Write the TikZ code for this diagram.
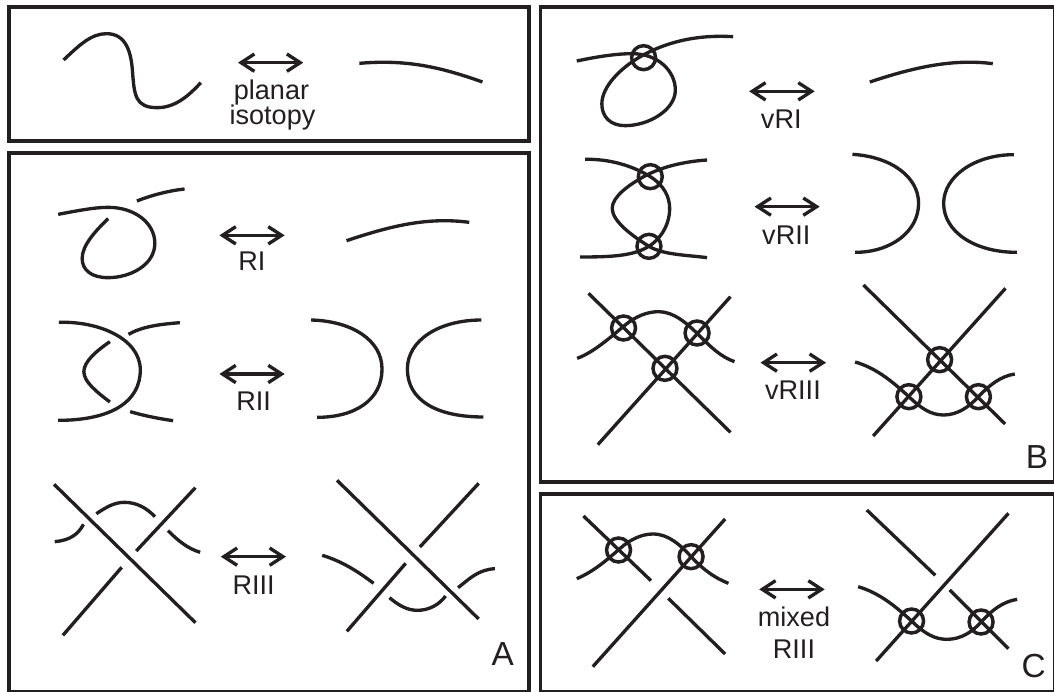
\documentclass[tikz,border=0pt]{standalone}
\usepackage{fontspec}
\setmainfont{Liberation Sans}
\usetikzlibrary{arrows.meta}
\definecolor{ink}{HTML}{231F20}
\tikzset{
  px/.style={x=0.75pt,y=-0.75pt},
  zA/.style={x=0.25355pt,y=-0.25pt},
  zB/.style={x=0.25355pt,y=-0.25pt,shift={(0pt,-258.75pt)}},
  zC/.style={x=0.2506pt,y=-0.25pt,shift={(397.5pt,0pt)}},
  zD/.style={x=0.2506pt,y=-0.25pt,shift={(397.5pt,-202.5pt)}},
  frame/.style={draw=ink,line width=2.8pt},
  strand/.style={draw=ink,line width=2.5pt,line cap=butt,line join=round},
  move/.style={draw=ink,line width=2.5pt,{Straight Barb[length=10pt,width=13pt]}-{Straight Barb[length=10pt,width=13pt]}},
  lab/.style={anchor=base,text=ink,font=\fontsize{20.3}{24}\selectfont,inner sep=0pt},
  corner/.style={anchor=base,text=ink,font=\fontsize{25}{30}\selectfont,inner sep=0pt},
  virt/.style={circle,draw=ink,line width=2.6pt,minimum size=18pt,inner sep=0pt}
}
\begin{document}
\begin{tikzpicture}
\begin{scope}[px]
\useasboundingbox (0,0) rectangle (1054,692);
\clip (0,0) rectangle (1054,692);
\fill[white] (0,0) rectangle (1054,692);
\draw[frame] (9,7) rectangle (529,141);
\draw[frame] (9,153) rectangle (529,691.5);
\draw[frame] (540.5,7) rectangle (1054.5,482);
\draw[frame] (540.5,494) rectangle (1054.5,691.5);
\end{scope}
% planar isotopy and RI
\begin{scope}[zA]
\draw[strand] (188,180) .. controls (235,135) and (270,101) .. (315,101) .. controls (375,101) and (388,160) .. (392,215) .. controls (397,285) and (400,323) .. (465,323) .. controls (520,323) and (560,285) .. (594,248);
\draw[strand] (1063,190) .. controls (1200,178) and (1300,200) .. (1427,246);
\draw[move] (704,188) -- (897,188);
\node[lab] (planar) at (803,297) {planar};
\node[lab] (isotopy) at (806,375) {isotopy};
\draw[strand] (172,643) .. controls (230,632) and (280,622) .. (320,622) .. controls (400,622) and (458,670) .. (458,730) .. controls (458,795) and (385,833) .. (320,833) .. controls (270,833) and (243,810) .. (243,775) .. controls (243,735) and (285,690) .. (320,656);
\draw[strand] (405,603) .. controls (450,585) and (500,572) .. (546,567);
\draw[strand] (1025,722) .. controls (1150,680) and (1260,650) .. (1388,667);
\draw[move] (649,706) -- (842,706);
\node[lab] (ri) at (745,812) {RI};
\end{scope}
% RII and RIII
\begin{scope}[zB]
\draw[strand] (174,-68) .. controls (290,-72) and (415,-20) .. (415,75) .. controls (415,170) and (330,226) .. (172,226);
\draw[strand] (325,-10) .. controls (285,18) and (248,50) .. (248,80) .. controls (248,110) and (285,140) .. (325,171);
\draw[strand] (380,-32) .. controls (420,-55) and (470,-62) .. (532,-67);
\draw[strand] (385,200) .. controls (430,213) and (470,221) .. (512,227);
\draw[move] (649,87) -- (842,87);
\node[lab] (rii) at (750,197) {RII};
\draw[strand] (920,-75) .. controls (1040,-72) and (1130,-15) .. (1130,72) .. controls (1130,165) and (1050,217) .. (938,217);
\draw[strand] (1424,-75) .. controls (1300,-75) and (1205,-15) .. (1205,72) .. controls (1205,165) and (1290,216) .. (1430,216);
\draw[strand] (160,418) -- (578,833);
\draw[strand] (578,428) -- (403,618);
\draw[strand] (360,667) -- (186,871);
\draw[strand] (285,506) .. controls (310,490) and (335,472) .. (368,472) .. controls (405,472) and (435,490) .. (458,515);
\draw[strand] (162,590) .. controls (205,586) and (230,570) .. (247,538);
\draw[strand] (497,557) .. controls (530,590) and (555,610) .. (592,622);
\draw[move] (653,635) -- (846,635);
\node[lab] (riii) at (750,748) {RIII};
\draw[strand] (997,406) -- (1416,822);
\draw[strand] (1416,415) -- (1242,606);
\draw[strand] (1200,655) -- (1026,859);
\draw[strand] (953,631) .. controls (1010,648) and (1060,680) .. (1105,715);
\draw[strand] (1152,758) .. controls (1180,782) and (1205,796) .. (1235,796) .. controls (1270,796) and (1300,778) .. (1318,753);
\draw[strand] (1355,728) .. controls (1390,700) and (1415,674) .. (1464,671);
\node[corner] (a) at (1487,962) {A};
\end{scope}
% panel B, upper rows
\begin{scope}[zC]
\draw[strand] (140,183) .. controls (200,170) and (260,161) .. (305,161) .. controls (385,161) and (435,215) .. (435,270) .. controls (435,330) and (355,377) .. (285,377) .. controls (240,377) and (215,350) .. (215,312) .. controls (215,260) and (270,205) .. (330,170) .. controls (400,130) and (490,103) .. (608,110);
\node[virt] (c1) at (340,173) {};
\draw[strand] (1017,246) .. controls (1140,205) and (1260,175) .. (1385,191);
\draw[move] (656,274) -- (852,274);
\node[lab] (vri) at (752,385) {vRI};
\draw[strand] (165,478) .. controls (250,476) and (320,505) .. (360,530) .. controls (400,555) and (418,590) .. (418,625) .. controls (418,680) and (385,725) .. (345,745) .. controls (300,768) and (240,771) .. (150,771);
\draw[strand] (530,480) .. controls (470,484) and (400,497) .. (340,530) .. controls (296,555) and (246,590) .. (246,625) .. controls (246,665) and (310,710) .. (356,739) .. controls (400,765) and (470,765) .. (530,773);
\node[virt] (c2) at (360,530) {};
\node[virt] (c3) at (356,739) {};
\draw[move] (672,620) -- (867,620);
\node[lab] (vrii) at (767,733) {vRII};
\draw[strand] (965,463) .. controls (1080,470) and (1163,530) .. (1163,610) .. controls (1163,695) and (1080,757) .. (973,757);
\draw[strand] (1448,464) .. controls (1330,464) and (1238,530) .. (1238,610) .. controls (1238,695) and (1330,757) .. (1457,757);
\end{scope}
% panel B, last row and panel C
\begin{scope}[zD]
\draw[strand] (175,70) -- (600,487);
\draw[strand] (600,80) -- (203,524);
\draw[strand] (141,265) .. controls (190,248) and (245,198) .. (285,165) .. controls (315,140) and (350,125) .. (385,125) .. controls (430,125) and (470,160) .. (505,195) .. controls (540,230) and (570,260) .. (612,275);
\node[virt] (c4) at (280,174) {};
\node[virt] (c5) at (500,189) {};
\node[virt] (c6) at (404,295) {};
\draw[move] (690,278) -- (886,278);
\node[lab] (vriii) at (787,388) {vRIII};
\draw[strand] (998,45) -- (1422,462);
\draw[strand] (1423,55) -- (1027,498);
\draw[strand] (973,276) .. controls (1040,295) and (1090,340) .. (1134,380) .. controls (1170,415) and (1200,435) .. (1238,435) .. controls (1280,435) and (1315,410) .. (1342,380) .. controls (1375,345) and (1410,318) .. (1451,312);
\node[virt] (c7) at (1226,269) {};
\node[virt] (c8) at (1134,380) {};
\node[virt] (c9) at (1342,380) {};
\node[corner] (b) at (1517,595) {B};
\draw[strand] (160,738) -- (362,932);
\draw[strand] (584,747) -- (188,1190);
\draw[strand] (414,985) -- (584,1152);
\draw[strand] (140,926) .. controls (190,905) and (230,870) .. (270,835) .. controls (300,808) and (335,792) .. (368,792) .. controls (415,792) and (450,825) .. (487,865) .. controls (520,900) and (555,925) .. (594,940);
\node[virt] (c10) at (265,840) {};
\node[virt] (c11) at (482,860) {};
\draw[move] (686,958) -- (882,958);
\node[lab] (mixed) at (790,1068) {mixed};
\node[lab] (riiib) at (790,1166) {RIII};
\draw[strand] (1008,720) -- (1213,916);
\draw[strand] (1432,730) -- (1036,1173);
\draw[strand] (1256,960) -- (1432,1136);
\draw[strand] (982,950) .. controls (1050,970) and (1100,1015) .. (1142,1053) .. controls (1180,1090) and (1210,1108) .. (1248,1108) .. controls (1290,1108) and (1325,1085) .. (1350,1056) .. controls (1383,1020) and (1415,995) .. (1458,988);
\node[virt] (c12) at (1142,1053) {};
\node[virt] (c13) at (1350,1056) {};
\node[corner] (c) at (1507,1222) {C};
\end{scope}
\end{tikzpicture}
\end{document}
